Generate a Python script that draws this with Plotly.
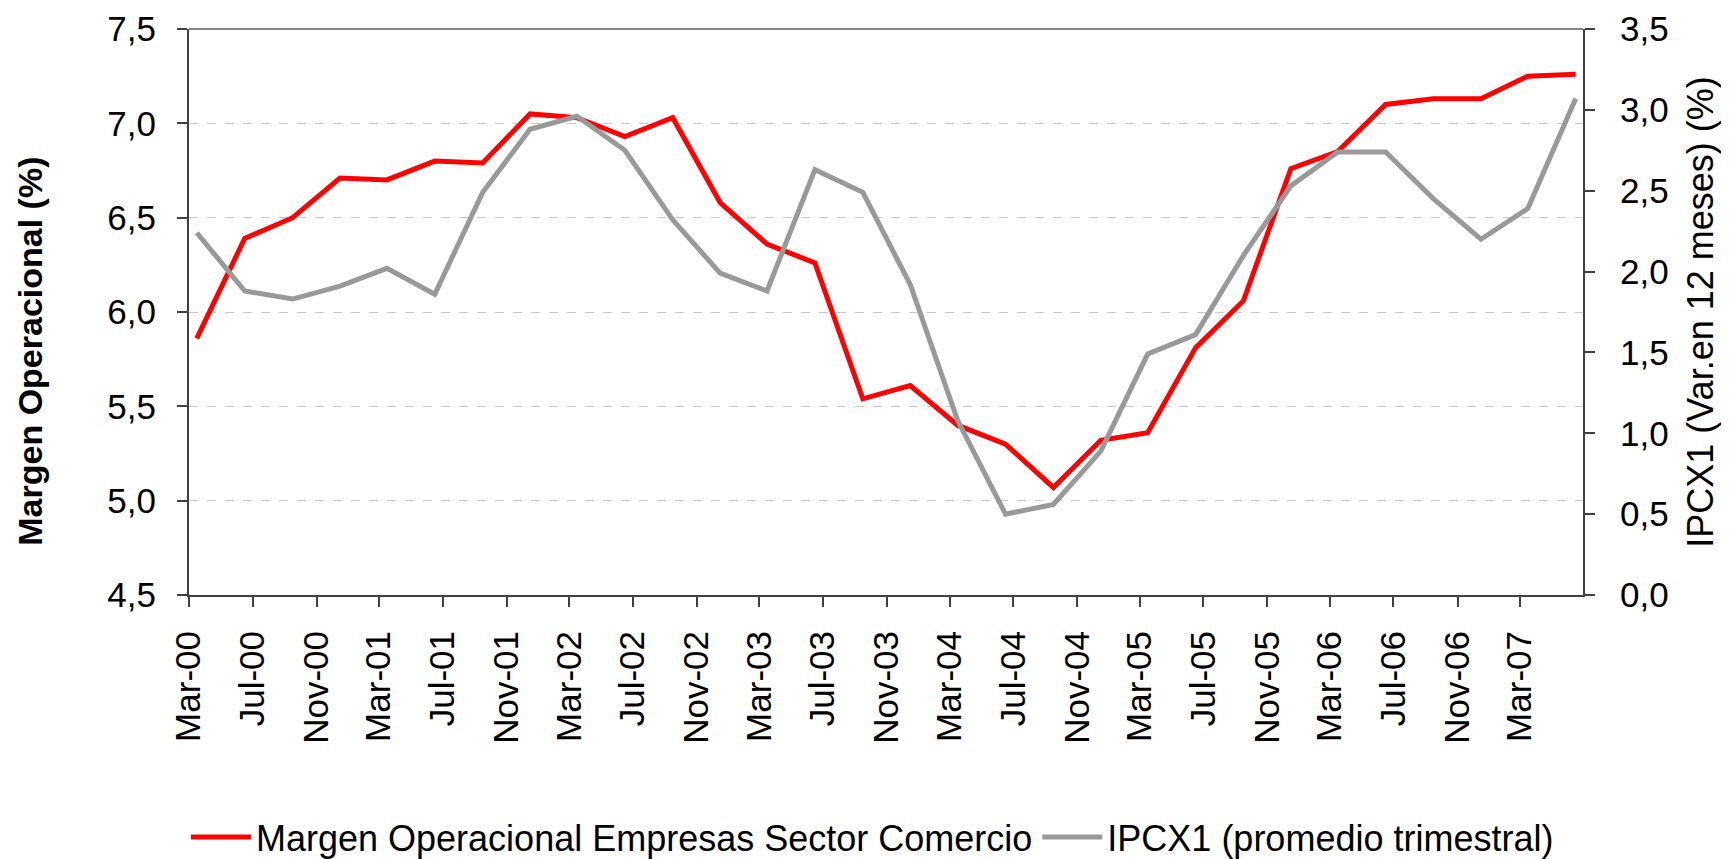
import plotly.graph_objects as go

# quarterly observations, Mar-00 .. Jun-07
quarters = ["2000-03", "2000-06", "2000-09", "2000-12",
            "2001-03", "2001-06", "2001-09", "2001-12",
            "2002-03", "2002-06", "2002-09", "2002-12",
            "2003-03", "2003-06", "2003-09", "2003-12",
            "2004-03", "2004-06", "2004-09", "2004-12",
            "2005-03", "2005-06", "2005-09", "2005-12",
            "2006-03", "2006-06", "2006-09", "2006-12",
            "2007-03", "2007-06"]

margen = [5.86, 6.39, 6.50, 6.71, 6.70, 6.80, 6.79, 7.05, 7.03, 6.93,
          7.03, 6.58, 6.36, 6.26, 5.54, 5.61, 5.40, 5.30, 5.07, 5.32,
          5.36, 5.81, 6.06, 6.76, 6.85, 7.10, 7.13, 7.13, 7.25, 7.26]

ipcx1 = [2.24, 1.88, 1.83, 1.91, 2.02, 1.86, 2.49, 2.88, 2.96, 2.75,
         2.32, 1.99, 1.88, 2.63, 2.49, 1.92, 1.08, 0.50, 0.56, 0.89,
         1.49, 1.61, 2.10, 2.53, 2.74, 2.74, 2.45, 2.20, 2.39, 3.07]

name_margen = "Margen Operacional Empresas Sector Comercio"
name_ipc = "IPCX1 (promedio trimestral)"

# Excel date axis puts each point in the middle of its month
x = [q + "-16" for q in quarters]

FONT = "Liberation Sans, Arial, sans-serif"
AXIS = "#404040"

fig = go.Figure()
fig.add_trace(go.Scatter(x=x, y=margen, name=name_margen, mode="lines",
                         line=dict(color="#ff0000", width=5)))
fig.add_trace(go.Scatter(x=x, y=ipcx1, name=name_ipc, mode="lines", yaxis="y2",
                         line=dict(color="#999999", width=5)))

# margins allow for the 8px body margin of the html page
fig.update_layout(
    width=1729, height=859,
    margin=dict(l=181, r=154, t=21, b=272),
    paper_bgcolor="white", plot_bgcolor="white",
    font=dict(family=FONT, size=35, color="black"),
    separators=",.",
    showlegend=True,
    legend=dict(orientation="h", xref="container", x=0.5, xanchor="center",
                yref="container", y=0.0, yanchor="bottom",
                font=dict(size=36), itemwidth=60, bgcolor="rgba(0,0,0,0)"),
    xaxis=dict(type="date", range=["2000-03-01", "2007-06-30"],
               tick0="2000-03-01", dtick="M4", tickformat="%b-%y",
               tickangle=-90, tickfont=dict(size=35), automargin=False,
               showgrid=False, zeroline=False,
               showline=True, linecolor=AXIS, linewidth=2,
               ticks="outside", ticklen=10, tickcolor=AXIS, tickwidth=2,
               ticklabelstandoff=10),
    yaxis=dict(range=[4.5, 7.5], dtick=0.5, tickformat=".1f",
               tickfont=dict(size=35), automargin=False, ticklabeloverflow="allow",
               showgrid=True, gridcolor="#c8c8c8", griddash="dash", gridwidth=1,
               zeroline=False, showline=True, linecolor=AXIS, linewidth=2,
               ticks="outside", ticklen=10, tickcolor=AXIS, tickwidth=2,
               ticklabelstandoff=14),
    yaxis2=dict(range=[0, 3.5], dtick=0.5, tickformat=".1f", overlaying="y", side="right",
                tickfont=dict(size=35), automargin=False, ticklabeloverflow="allow",
                title=dict(text="IPCX1 (Var.en 12 meses) (%)", font=dict(size=36), standoff=20),
                showgrid=False, zeroline=False, showline=True, linecolor=AXIS, linewidth=2,
                ticks="outside", ticklen=10, tickcolor=AXIS, tickwidth=2,
                ticklabelstandoff=18),
)

# left axis title sits a little below the middle in the original
fig.add_annotation(text="<b>Margen Operacional (%)</b>", textangle=-90,
                   xref="paper", yref="paper", x=-0.114, y=0.43,
                   xanchor="center", yanchor="middle", showarrow=False,
                   font=dict(size=34))

# plot area top border
fig.add_shape(type="line", xref="paper", yref="paper", x0=0, x1=1, y0=1, y1=1,
              line=dict(color="#888888", width=2))

fig.write_html("out.html")
